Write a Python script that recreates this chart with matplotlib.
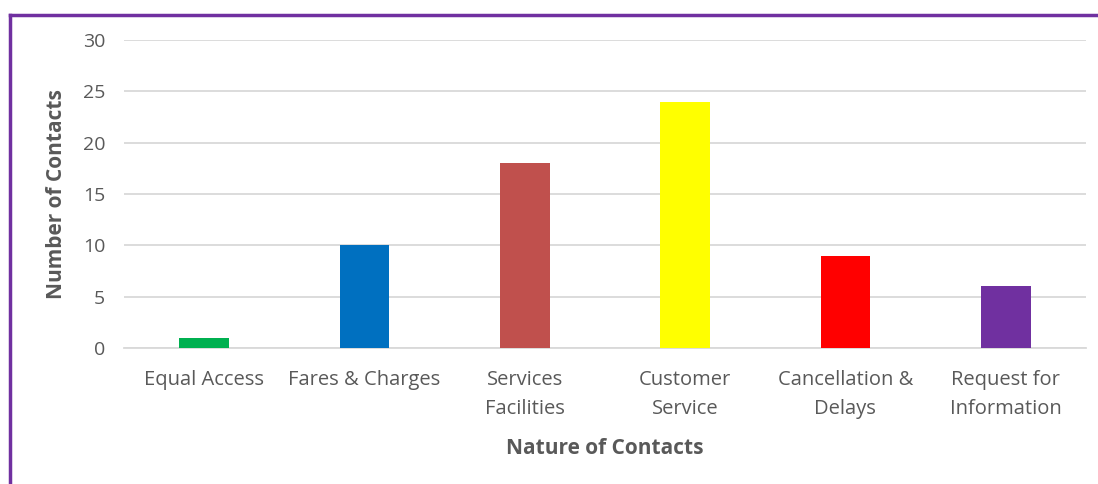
import matplotlib.pyplot as plt
from matplotlib.lines import Line2D

categories = ["Equal Access", "Fares & Charges", "Services\nFacilities",
              "Customer\nService", "Cancellation &\nDelays", "Request for\nInformation"]
contacts = [1, 10, 18, 24, 9, 6]
colors = ["#00B050", "#0070C0", "#C0504D", "#FFFF00", "#FF0000", "#7030A0"]

plt.rcParams["font.family"] = ["Open Sans", "DejaVu Sans"]
text_color = "#595959"

fig = plt.figure(figsize=(10.98, 4.84), dpi=100)
ax = fig.add_axes([0.1129, 0.281, 0.876, 0.636])

x = range(len(categories))
ax.bar(x, contacts, width=0.31, color=colors, zorder=3)

ax.set_xlim(-0.5, len(categories) - 0.5)
ax.set_ylim(0, 30)
ax.set_yticks(range(0, 31, 5))
ax.set_xticks(list(x))
ax.set_xticklabels(categories, fontsize=14.5, color=text_color, linespacing=1.6)
ax.tick_params(axis="y", labelsize=14, labelcolor=text_color, length=0, pad=13.5)
ax.tick_params(axis="x", length=0, pad=15.5)
ax.grid(axis="y", color="#D9D9D9", linewidth=1.3, zorder=0)
for side in ["top", "right", "left"]:
    ax.spines[side].set_visible(False)
ax.spines["bottom"].set_color("#D9D9D9")
ax.spines["bottom"].set_linewidth(1.3)

ax.set_xlabel("Nature of Contacts", fontsize=15, fontweight="bold", color=text_color, labelpad=14)
ax.set_ylabel("Number of Contacts", fontsize=15, fontweight="bold", color=text_color, labelpad=11)

# purple frame along the top and left edges
fig.add_artist(Line2D([0.009, 1.0], [0.969, 0.969], transform=fig.transFigure, color="#7030A0", linewidth=2.5))
fig.add_artist(Line2D([0.009, 0.009], [0.0, 0.969], transform=fig.transFigure, color="#7030A0", linewidth=2.5))

fig.savefig("out.png", dpi=100)
